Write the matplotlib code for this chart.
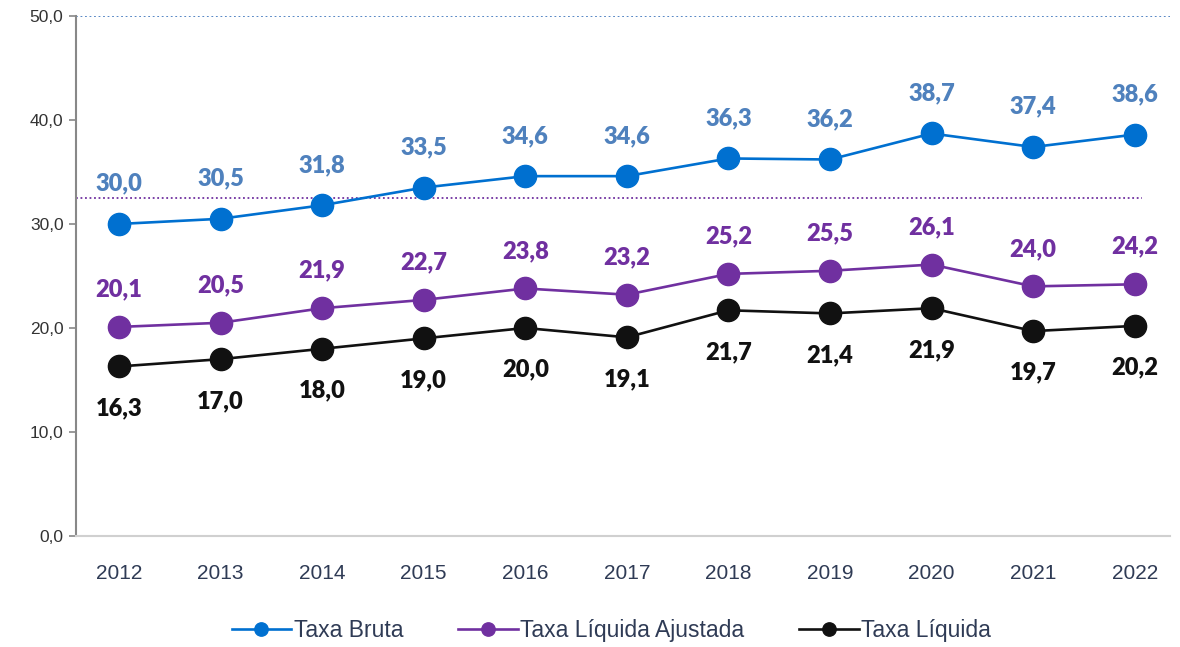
import matplotlib
matplotlib.use('Agg')
import matplotlib.pyplot as plt

years = [2012, 2013, 2014, 2015, 2016, 2017, 2018, 2019, 2020, 2021, 2022]
taxa_bruta = [30.0, 30.5, 31.8, 33.5, 34.6, 34.6, 36.3, 36.2, 38.7, 37.4, 38.6]
taxa_liq_ajust = [20.1, 20.5, 21.9, 22.7, 23.8, 23.2, 25.2, 25.5, 26.1, 24.0, 24.2]
taxa_liq = [16.3, 17.0, 18.0, 19.0, 20.0, 19.1, 21.7, 21.4, 21.9, 19.7, 20.2]
meta_bruta = 50.0
meta_ajust = 32.5
yticks = [0, 10, 20, 30, 40, 50]

tick_font = ['Liberation Sans', 'DejaVu Sans']
lab_font = ['Lato', 'DejaVu Sans']


def fmt(v):
    return f"{v:.1f}".replace('.', ',')


def main():
    fig = plt.figure(figsize=(11.8, 6.47), dpi=100)
    fig.patch.set_facecolor('white')
    ax = fig.add_axes([0.0644, 0.1716, 0.927, 0.8037])

    c_blue = '#0070D0'
    c_purple = '#7030A0'
    c_black = '#111111'

    ax.axhline(meta_bruta, color='#4A7EC0', linestyle=(0, (1, 1.5)), linewidth=1.3, zorder=1)
    ax.plot([years[0] - 0.42, years[-1] + 0.07], [meta_ajust, meta_ajust], color=c_purple,
            linestyle=(0, (1, 1.5)), linewidth=1.3, zorder=1)

    series = [
        (taxa_bruta, c_blue, '#4F81BD', 29, 'Taxa Bruta'),
        (taxa_liq_ajust, c_purple, '#7030A0', 27, 'Taxa Líquida Ajustada'),
        (taxa_liq, c_black, '#111111', -30, 'Taxa Líquida'),
    ]
    for vals, col, lcol, off, name in series:
        ax.plot(years, vals, color=col, linewidth=1.9, marker='o', markersize=16,
                label=name, zorder=3)
        for x, v in zip(years, vals):
            ax.annotate(fmt(v), (x, v), xytext=(0, off), textcoords='offset points',
                        ha='center', va='center', fontsize=17, fontweight='heavy',
                        color=lcol, family=lab_font)

    ax.set_ylim(0, 50)
    ax.set_xlim(years[0] - 0.423, years[-1] + 0.345)
    ax.set_yticks(yticks)
    ax.set_yticklabels([fmt(v) for v in yticks], fontsize=12.5, color='#333333', family=tick_font)
    ax.set_xticks(years)
    ax.set_xticklabels([str(y) for y in years], fontsize=15, color='#2F3B55', family=tick_font)
    ax.tick_params(axis='x', length=0, pad=20)
    ax.tick_params(axis='y', length=5, color='#888888', width=1.2, pad=4)

    for s in ['top', 'right']:
        ax.spines[s].set_visible(False)
    ax.spines['left'].set_color('#888888')
    ax.spines['left'].set_linewidth(1.5)
    ax.spines['bottom'].set_color('#D0D0D0')
    ax.spines['bottom'].set_linewidth(1.5)

    handles, labels = ax.get_legend_handles_labels()
    fig.legend(handles, labels, loc='center', bbox_to_anchor=(0.518, 0.026), ncol=3,
               frameon=False, prop={'family': tick_font, 'size': 16.5}, labelcolor='#2F3B55',
               handlelength=2.6, handletextpad=0.1, columnspacing=2.4, markerscale=0.6,
               borderpad=0.1)

    fig.savefig('out.png', dpi=100)


if __name__ == "__main__":
    main()
